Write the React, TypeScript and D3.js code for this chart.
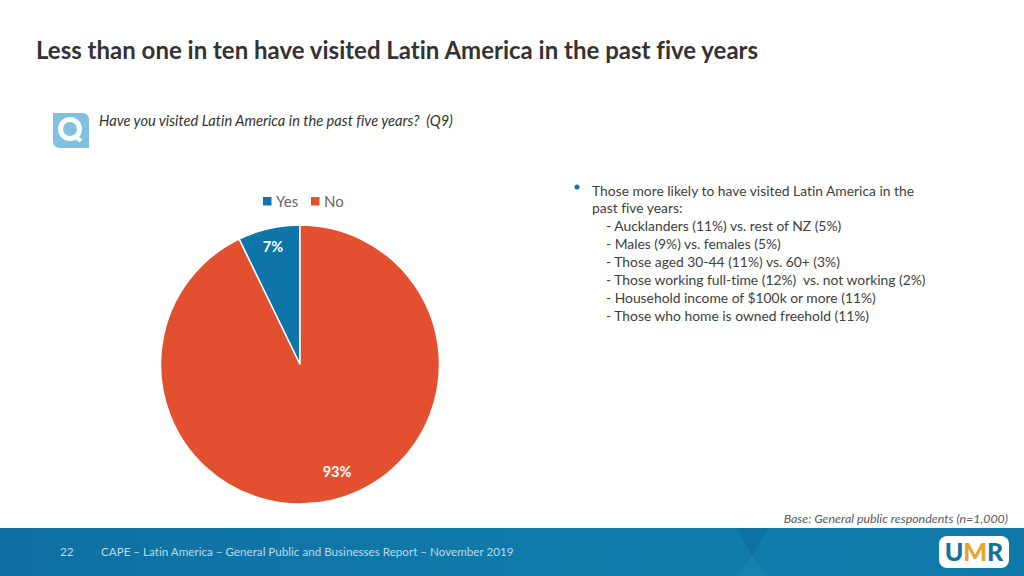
import * as d3 from "d3";
import { useEffect, useRef } from "react";

const categories = ["Yes", "No"];
const values = [7.2, 92.8];
const colors = ["#0f75a8", "#e2502f"];
const bullets = [
  "- Aucklanders (11%) vs. rest of NZ (5%)",
  "- Males (9%) vs. females (5%)",
  "- Those aged 30-44 (11%) vs. 60+ (3%)",
  "- Those working full-time (12%)\u00a0 vs. not working (2%)",
  "- Household income of $100k or more (11%)",
  "- Those who home is owned freehold (11%)",
];
const FONT = "Lato, 'Open Sans', sans-serif";

export default function App() {
  const ref = useRef<SVGSVGElement>(null);

  useEffect(() => {
    document.body.style.margin = "0";
    const svg = d3.select(ref.current);
    svg.selectAll("*").remove();
    svg.style("font-family", FONT).style("font-variant-ligatures", "none");

    // footer band
    const defs = svg.append("defs");
    const grad = defs.append("linearGradient").attr("id", "band");
    grad.append("stop").attr("offset", "0%").attr("stop-color", "#0f6fa3");
    grad.append("stop").attr("offset", "60%").attr("stop-color", "#0f7dab");
    grad.append("stop").attr("offset", "100%").attr("stop-color", "#0f7aa9");
    svg.append("rect").attr("x", 0).attr("y", 528).attr("width", 1024).attr("height", 48).attr("fill", "url(#band)");
    svg.append("path").attr("d", "M737 528 L768 528 L752 556 Z").attr("fill", "#0d6ca0").attr("opacity", 0.6);
    svg.append("path").attr("d", "M752 556 L768 576 L737 576 Z").attr("fill", "#1a86b3").attr("opacity", 0.6);

    svg.append("text").attr("x", 36).attr("y", 59).attr("font-size", 24).attr("font-weight", 700).attr("fill", "#333333")
      .text("Less than one in ten have visited Latin America in the past five years");

    // question icon
    svg.append("path").attr("d", "M53 113 H82 Q89 113 89 120 V148 H60 Q53 148 53 141 Z").attr("fill", "#7fc0e3");
    svg.append("circle").attr("cx", 70).attr("cy", 129).attr("r", 9.5).attr("fill", "none").attr("stroke", "#fff").attr("stroke-width", 5);
    svg.append("path").attr("d", "M75 136 L81 141").attr("stroke", "#fff").attr("stroke-width", 4);

    svg.append("text").attr("x", 99).attr("y", 125.5).attr("font-size", 14.65).attr("font-style", "italic").attr("fill", "#333333")
      .text("Have you visited Latin America in the past five years?\u00a0 (Q9)");

    // legend
    const legendX = d3.scalePoint<string>().domain(categories).range([263, 311]);
    const legend = svg.append("g").selectAll("g").data(categories).enter().append("g")
      .attr("transform", (d) => `translate(${legendX(d)},197)`);
    legend.append("rect").attr("width", 8.5).attr("height", 8.5).attr("fill", (_, i) => colors[i]);
    legend.append("text").attr("x", 13).attr("y", 9.5).attr("font-size", 15).attr("fill", "#666666").text((d) => d);

    // pie
    const pie = d3.pie<number>().sort(null).startAngle(2 * Math.PI).endAngle(0);
    const arc = d3.arc<d3.PieArcDatum<number>>().innerRadius(0).outerRadius(139.5);
    const chart = svg.append("g").attr("transform", "translate(300,364.5)");
    const slices = pie(values);
    chart.selectAll("path").data(slices).enter().append("path")
      .attr("d", arc)
      .attr("fill", (_, i) => colors[i])
      .attr("stroke", "#fff")
      .attr("stroke-width", 1.5);
    chart.selectAll("text").data(slices).enter().append("text")
      .attr("text-anchor", "middle")
      .attr("font-size", 14.5)
      .attr("font-weight", 700)
      .attr("fill", "#fff")
      .attr("x", (_, i) => (i === 0 ? -27 : 37))
      .attr("y", (_, i) => (i === 0 ? -113 : 112.5))
      .text((d) => `${Math.round(d.value)}%`);

    // commentary
    svg.append("circle").attr("cx", 577).attr("cy", 187).attr("r", 2.5).attr("fill", "#0f75a8");
    const notes = svg.append("g").attr("font-size", 13.85).attr("fill", "#404040");
    notes.append("text").attr("x", 592).attr("y", 195.5).text("Those more likely to have visited Latin America in the");
    notes.append("text").attr("x", 592).attr("y", 213).text("past five years:");
    bullets.forEach((b, i) => {
      notes.append("text").attr("x", 606).attr("y", 231 + i * 18).text(b);
    });

    svg.append("text").attr("x", 1008).attr("y", 523).attr("text-anchor", "end").attr("font-size", 12.4).attr("font-style", "italic").attr("fill", "#595959")
      .text("Base: General public respondents (n=1,000)");

    // footer text
    svg.append("text").attr("x", 60).attr("y", 556).attr("font-size", 11.7).attr("fill", "#b9dbe9").text("22");
    svg.append("text").attr("x", 101).attr("y", 556).attr("font-size", 11.65).attr("fill", "#b9dbe9")
      .text("CAPE – Latin America – General Public and Businesses Report – November 2019");

    // logo
    svg.append("rect").attr("x", 939).attr("y", 536).attr("width", 70).attr("height", 32).attr("rx", 8).attr("fill", "#fff");
    const logo = svg.append("text").attr("x", 974).attr("y", 561).attr("text-anchor", "middle").attr("font-size", 25).attr("font-weight", 900).attr("fill", "#12719f");
    logo.append("tspan").text("U");
    logo.append("tspan").text("M").attr("fill", "#e9a32b");
    logo.append("tspan").text("R");
  }, []);

  return <svg ref={ref} width={1024} height={576} style={{ display: "block", background: "#fff" }} />;
}
